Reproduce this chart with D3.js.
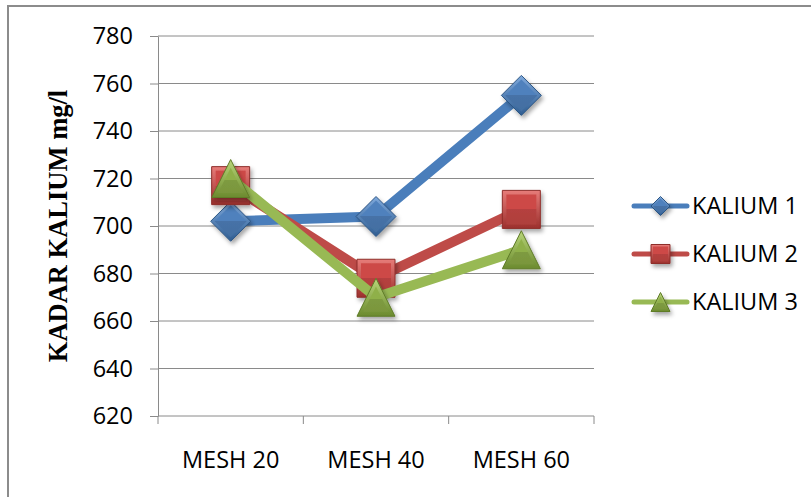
<!DOCTYPE html>
<html>
<head>
<meta charset="utf-8">
<script src="https://cdn.jsdelivr.net/npm/d3@7"></script>
<style>
  html, body { margin: 0; padding: 0; background: #fff; }
  svg { display: block; }
</style>
</head>
<body>
<svg id="chart" width="811" height="497"></svg>
<script>
// Potassium content per sieve size
const categories = ["MESH 20", "MESH 40", "MESH 60"];
const kalium1 = [702, 704, 755];
const kalium2 = [717, 678, 707];
const kalium3 = [720, 670, 690];
const seriesNames = ["KALIUM 1", "KALIUM 2", "KALIUM 3"];
const yTicks = [620, 640, 660, 680, 700, 720, 740, 760, 780];
const yTitle = "KADAR KALIUM mg/l";

const series = [
  { name: seriesNames[0], values: kalium1, shape: "diamond",
    line: "#4A7EBB", light: "#7FA9DC", mid: "#4F81BD", dark: "#2F5D91", edge: "#2C5584" },
  { name: seriesNames[1], values: kalium2, shape: "square",
    line: "#BE4B48", light: "#E77C79", mid: "#CD4A47", dark: "#9C302D", edge: "#8E2E2B" },
  { name: seriesNames[2], values: kalium3, shape: "triangle",
    line: "#98B954", light: "#B9D67A", mid: "#8FB048", dark: "#6B8A2E", edge: "#5F7B28" }
];

const svg = d3.select("#chart");
const defs = svg.append("defs");

// soft drop shadow under markers
const shadow = defs.append("filter").attr("id", "mshadow")
  .attr("x", "-40%").attr("y", "-40%").attr("width", "180%").attr("height", "180%");
shadow.append("feDropShadow").attr("dx", 2).attr("dy", 3)
  .attr("stdDeviation", 2).attr("flood-color", "#000").attr("flood-opacity", 0.35);

series.forEach((s, i) => {
  const g = defs.append("linearGradient").attr("id", "outer" + i)
    .attr("x1", 0).attr("y1", 0).attr("x2", 0).attr("y2", 1);
  g.append("stop").attr("offset", "0%").attr("stop-color", s.light);
  g.append("stop").attr("offset", "100%").attr("stop-color", s.dark);
  const h = defs.append("linearGradient").attr("id", "inner" + i)
    .attr("x1", 0).attr("y1", 0).attr("x2", 0).attr("y2", 1);
  h.append("stop").attr("offset", "0%").attr("stop-color", s.mid);
  h.append("stop").attr("offset", "50%").attr("stop-color", s.mid);
  h.append("stop").attr("offset", "50%").attr("stop-color", d3.color(s.mid).darker(0.35));
  h.append("stop").attr("offset", "100%").attr("stop-color", d3.color(s.mid).darker(0.45));
});

// outer frame
svg.append("rect")
  .attr("x", 8).attr("y", 6).attr("width", 820).attr("height", 510)
  .attr("fill", "none").attr("stroke", "#8C8C8C").attr("stroke-width", 2);

const plot = { left: 158, right: 594, top: 36, bottom: 416 };

const x = d3.scaleBand().domain(categories).range([plot.left, plot.right]).padding(0);
const y = d3.scaleLinear().domain([620, 780]).range([plot.bottom, plot.top]);

// horizontal gridlines
svg.append("g")
  .selectAll("line").data(yTicks.slice(1)).join("line")
  .attr("x1", plot.left).attr("x2", plot.right)
  .attr("y1", d => y(d)).attr("y2", d => y(d))
  .attr("stroke", "#8A8A8A").attr("stroke-width", 1);

// y axis
const yAxis = svg.append("g")
  .attr("transform", `translate(${plot.left},0)`)
  .call(d3.axisLeft(y).tickValues(yTicks).tickSize(8).tickPadding(17).tickSizeOuter(0));
yAxis.select(".domain").attr("stroke", "#8A8A8A");
yAxis.selectAll(".tick line").attr("stroke", "#8A8A8A");
yAxis.selectAll(".tick text")
  .attr("font-family", "'Open Sans', sans-serif").attr("font-size", 23.5)
  .attr("fill", "#000");

// x axis: tick marks at category boundaries
const xAxis = svg.append("g").attr("transform", `translate(0,${plot.bottom})`);
xAxis.append("line")
  .attr("x1", plot.left).attr("x2", plot.right).attr("y1", 0).attr("y2", 0)
  .attr("stroke", "#8A8A8A").attr("stroke-width", 1);
const bounds = categories.map(c => x(c)).concat([x(categories[categories.length - 1]) + x.bandwidth()]);
xAxis.selectAll("line.tk").data(bounds).join("line").attr("class", "tk")
  .attr("x1", d => d).attr("x2", d => d).attr("y1", 0).attr("y2", 8)
  .attr("stroke", "#8A8A8A").attr("stroke-width", 1);
xAxis.selectAll("text").data(categories).join("text")
  .attr("x", d => x(d) + x.bandwidth() / 2).attr("y", 44)
  .attr("dy", "0.35em").attr("text-anchor", "middle")
  .attr("font-family", "'Open Sans', sans-serif").attr("font-size", 23.5)
  .attr("fill", "#000").text(d => d);

// y axis title
svg.append("text")
  .attr("transform", "translate(58,226) rotate(-90)")
  .attr("text-anchor", "middle").attr("dy", "0.35em")
  .attr("font-family", "'Liberation Serif', 'Times New Roman', serif")
  .attr("font-weight", "bold").attr("font-size", 26.5)
  .attr("fill", "#000").text(yTitle);

// marker drawing
function shapePath(shape, cx, cy, r) {
  const p = d3.path();
  if (shape === "diamond") {
    p.moveTo(cx, cy - r); p.lineTo(cx + r, cy); p.lineTo(cx, cy + r); p.lineTo(cx - r, cy); p.closePath();
  } else if (shape === "square") {
    p.rect(cx - r, cy - r, 2 * r, 2 * r);
  } else {
    p.moveTo(cx, cy - r); p.lineTo(cx + r, cy + r); p.lineTo(cx - r, cy + r); p.closePath();
  }
  return p.toString();
}

function drawMarker(g, s, i, cx, cy, r, inset) {
  const m = g.append("g").attr("filter", "url(#mshadow)");
  m.append("path").attr("d", shapePath(s.shape, cx, cy, r))
    .attr("fill", `url(#outer${i})`).attr("stroke", s.edge).attr("stroke-width", 1);
  let ri = r - inset, cyi = cy;
  if (s.shape === "triangle") { ri = r - inset * 1.6; cyi = cy + inset * 0.45; }
  m.append("path").attr("d", shapePath(s.shape, cx, cyi, ri))
    .attr("fill", `url(#inner${i})`);
}

const line = d3.line()
  .x((d, j) => x(categories[j]) + x.bandwidth() / 2)
  .y(d => y(d));

series.forEach((s, i) => {
  const g = svg.append("g");
  g.append("path").datum(s.values)
    .attr("d", line).attr("fill", "none")
    .attr("stroke", s.line).attr("stroke-width", 10)
    .attr("stroke-linejoin", "round").attr("stroke-linecap", "round");
  s.values.forEach((v, j) => {
    const r = s.shape === "diamond" ? 20 : 19;
    drawMarker(g, s, i, x(categories[j]) + x.bandwidth() / 2, y(v), r, 4);
  });
});

// legend
const legend = svg.append("g");
series.forEach((s, i) => {
  const ly = 206 + i * 48;
  const g = legend.append("g");
  g.append("line").attr("x1", 634).attr("x2", 687).attr("y1", ly).attr("y2", ly)
    .attr("stroke", s.line).attr("stroke-width", 5).attr("stroke-linecap", "round");
  drawMarker(g, s, i, 660.5, ly, 9.5, 2);
  g.append("text").attr("x", 692).attr("y", ly).attr("dy", "0.35em")
    .attr("font-family", "'Open Sans', sans-serif").attr("font-size", 23.5)
    .attr("fill", "#000").text(s.name);
});
</script>
</body>
</html>
